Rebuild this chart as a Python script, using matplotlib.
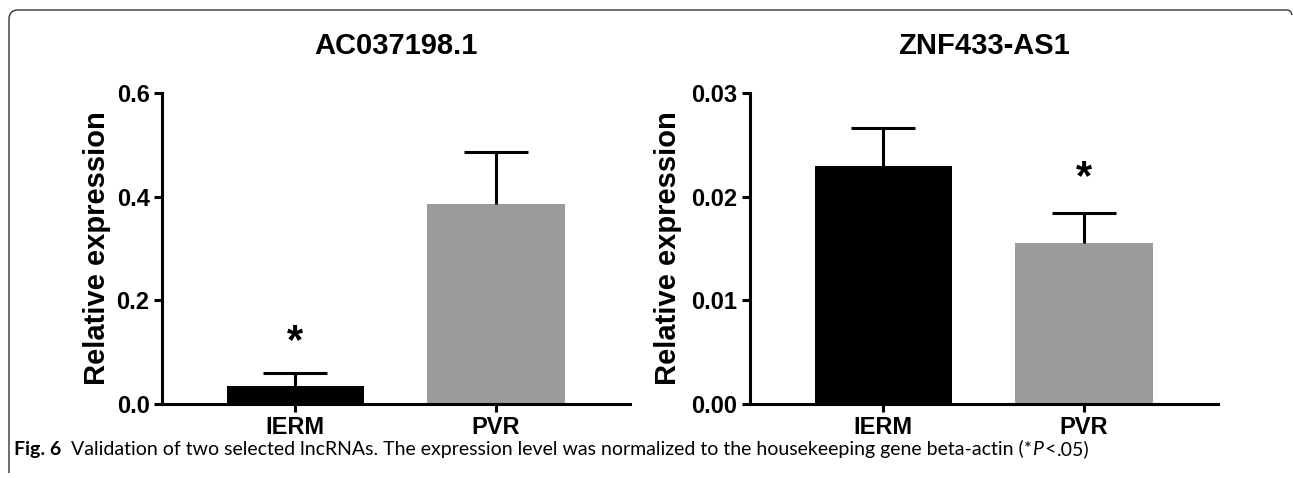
import matplotlib
matplotlib.use("Agg")
import matplotlib.pyplot as plt
from matplotlib.path import Path
from matplotlib.patches import PathPatch
import numpy as np

groups = ["IERM", "PVR"]
bar_colors = ["#000000", "#9b9b9b"]

# AC037198.1
ac_values = [0.034, 0.386]
ac_err = [0.026, 0.100]
ac_ticks = [0.0, 0.2, 0.4, 0.6]
ac_tick_labels = ["0.0", "0.2", "0.4", "0.6"]
ac_star = 0.120

# ZNF433-AS1
znf_values = [0.0230, 0.0155]
znf_err = [0.0036, 0.0029]
znf_ticks = [0.00, 0.01, 0.02, 0.03]
znf_tick_labels = ["0.00", "0.01", "0.02", "0.03"]
znf_star = 0.0218

plt.rcParams['font.family'] = ['Liberation Sans', 'DejaVu Sans']

fig = plt.figure(figsize=(12.93, 4.78), dpi=100)

W, H = 1293, 478
ax1 = fig.add_axes([162 / W, 1 - 404 / H, 468 / W, 311 / H])
ax2 = fig.add_axes([750 / W, 1 - 404 / H, 468 / W, 311 / H])


def draw_panel(ax, values, err, ticks, tick_labels, ymax, title, star_idx, star_y, label_x):
    x = [0, 1]
    ax.bar(x, values, width=0.683, color=bar_colors, zorder=2)
    eb = ax.errorbar(x, values, yerr=[[0, 0], err], fmt='none', ecolor='black',
                     elinewidth=2.2, capsize=23, capthick=2.2, zorder=3)
    # only the upper cap is drawn (one-sided error bars)
    for cap in eb.lines[1]:
        if np.allclose(cap.get_ydata(), values):
            cap.set_visible(False)
    ax.set_xlim(-0.665, 1.668)
    ax.set_ylim(0, ymax)
    ax.set_xticks(x)
    ax.set_xticklabels(groups, fontsize=17, fontweight='bold')
    ax.set_yticks(ticks)
    ax.set_yticklabels(tick_labels, fontsize=17, fontweight='bold')
    for s in ['top', 'right']:
        ax.spines[s].set_visible(False)
    for s in ['left', 'bottom']:
        ax.spines[s].set_linewidth(2.2)
        ax.spines[s].set_zorder(4)
    ax.tick_params(axis='both', width=2.2, length=6, pad=3)
    ax.tick_params(axis='x', pad=3)
    ax.set_ylabel("Relative expression", fontsize=21, fontweight='bold', va='center')
    ax.yaxis.set_label_coords(label_x, 0.5)
    ax.text(x[star_idx], star_y, "*", fontsize=30, fontweight='bold',
            ha='center', va='center')
    ax.set_title(title, fontsize=21, fontweight='bold', pad=28)


draw_panel(ax1, ac_values, ac_err, ac_ticks, ac_tick_labels, 0.6,
           "AC037198.1", 0, ac_star, -0.139)
draw_panel(ax2, znf_values, znf_err, znf_ticks, znf_tick_labels, 0.03,
           "ZNF433-AS1", 1, znf_star, -0.175)

# rounded frame around the figure (top and left edges)
r = 9
x0, y0 = 9, 10
verts = [(x0, H - 5), (x0, y0 + r), (x0, y0), (x0 + r, y0),
         (W - 6, y0), (W - 2, y0), (W - 1, y0 + 5)]
codes = [Path.MOVETO, Path.LINETO, Path.CURVE3, Path.CURVE3,
         Path.LINETO, Path.CURVE3, Path.CURVE3]
verts = [(vx / W, 1 - vy / H) for vx, vy in verts]
frame = PathPatch(Path(verts, codes), transform=fig.transFigure,
                  fill=False, lw=1.0, edgecolor='#333333')
fig.add_artist(frame)

# caption
cap_font = ['Lato', 'DejaVu Sans']
cap_size = 14
pieces = [("Fig. 6", 'bold', 'normal', 0),
          ("Validation of two selected lncRNAs. The expression level was normalized to "
           "the housekeeping gene beta-actin (*", 'normal', 'normal', 7),
          ("P", 'normal', 'italic', 0),
          ("<", 'normal', 'normal', 1),
          (".05)", 'normal', 'normal', 1)]
prev = fig.text(14 / W, 1 - 455 / H, pieces[0][0], fontsize=cap_size,
                fontweight=pieces[0][1], family=cap_font, va='baseline')
for txt, wt, st, gap in pieces[1:]:
    prev = fig.add_artist(plt.Annotation(txt, xy=(1, 0), xycoords=prev,
                                         xytext=(gap, 0), textcoords='offset points',
                                         fontsize=cap_size, fontweight=wt, fontstyle=st,
                                         family=cap_font, va='bottom', ha='left'))

fig.savefig("out.png", dpi=100)
